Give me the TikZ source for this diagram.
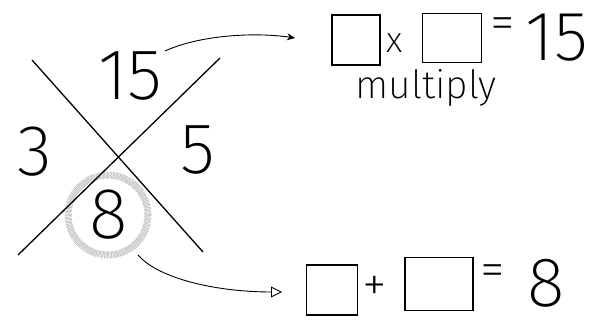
\documentclass[tikz,border=0pt]{standalone}
\usepackage{fontspec}
\newfontfamily\hand{Fira Sans ExtraLight}
\usetikzlibrary{arrows.meta}
\begin{document}
\begin{tikzpicture}[x=1pt,y=-1pt,
  digit/.style={font=\hand\fontsize{72}{72}\selectfont, inner sep=0pt},
  sym/.style={font=\hand\fontsize{50}{50}\selectfont, inner sep=0pt},
  blank/.style={draw, line width=1.1pt, inner sep=0pt},
  cross/.style={line width=1.3pt},
  ring/.style={draw=gray!50, line width=7pt, dash pattern=on 0.7pt off 0.7pt},
  flow/.style={line width=0.9pt}]
\useasboundingbox (0,0) rectangle (589,329);
% the X
\coordinate (a1) at (32,60); \coordinate (a2) at (203,252);
\coordinate (b1) at (220,58); \coordinate (b2) at (18,255);
\draw[ring] (108,215) circle (40);
\draw[cross] (a1) -- (a2);
\draw[cross] (b1) -- (b2);
\node[digit] (n15) at (130,76) {15};
\node[digit] (n3) at (35,152) {3};
\node[digit] (n5) at (198,150) {5};
\node[digit] (n8) at (109,215) {8};
% top equation
\node[blank, minimum width=48pt, minimum height=50pt] (t1) at (356,40) {};
\node[sym, font=\hand\fontsize{36}{36}\selectfont] (tx) at (395,43) {x};
\node[blank, minimum width=59pt, minimum height=49pt] (t2) at (452,38) {};
\node[sym] (teq) at (503,29) {=};
\node[digit, font=\hand\fontsize{70}{70}\selectfont] (t15) at (557,38) {15};
\node[font=\hand\fontsize{39}{39}\selectfont, inner sep=0pt] (mul) at (426,88) {multiply};
% bottom equation
\node[blank, minimum width=51pt, minimum height=50pt] (u1) at (332,290) {};
\node[sym] (uplus) at (375,289) {+};
\node[blank, minimum width=68pt, minimum height=53pt] (u2) at (439,284) {};
\node[sym] (ueq) at (493,276) {=};
\node[digit, font=\hand\fontsize{70}{70}\selectfont] (u8) at (546,283) {8};
% arrows
\coordinate (s1) at (165,51); \coordinate (e1) at (295,38);
\coordinate (s2) at (138,255); \coordinate (e2) at (282,292);
\draw[flow, -{Stealth[length=8pt,width=7pt]}] (s1) .. controls (200,35) and (255,32) .. (e1);
\draw[flow, -{Triangle[open,length=11pt,width=11pt]}] (s2) .. controls (160,280) and (220,292) .. (e2);
\end{tikzpicture}
\end{document}
